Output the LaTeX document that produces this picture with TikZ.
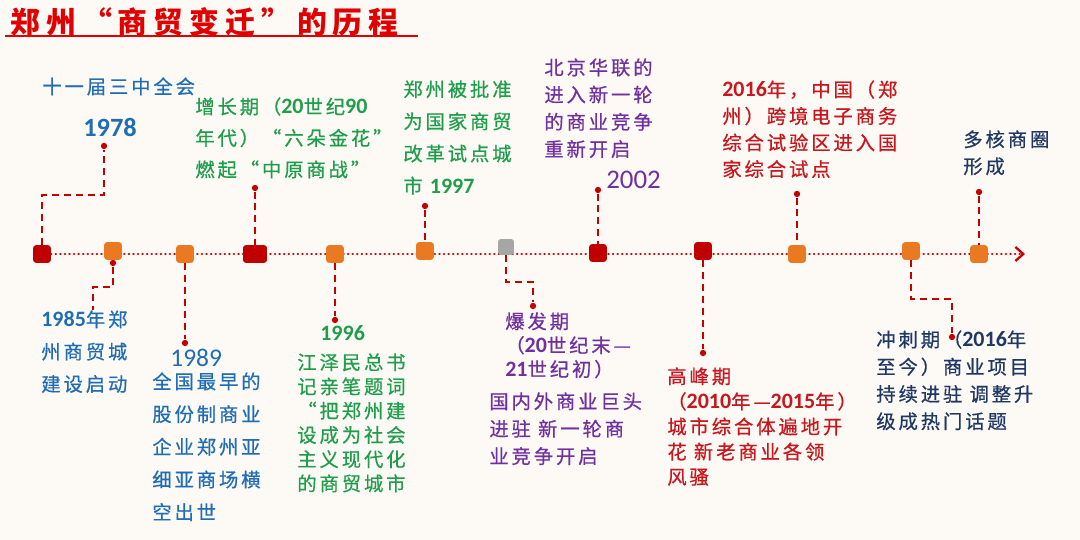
\documentclass[tikz,border=0pt]{standalone}
\usepackage{fontspec}
\setmainfont{Carlito}
\newfontfamily\cjk[LetterSpace=15, FakeBold=0.6]{Noto Sans CJK SC}
\newfontfamily\titlefont[LetterSpace=20]{Noto Sans CJK SC}
\newfontfamily\yr{Carlito}
\newcommand\nm[1]{{\yr\bfseries\fontsize{12.5}{12.5}\selectfont #1}}
\usetikzlibrary{arrows.meta}

\definecolor{bg}{HTML}{FDFAF6}
\definecolor{titlered}{HTML}{E00000}
\definecolor{txtblue}{HTML}{1F6DB5}
\definecolor{txtgreen}{HTML}{1E9E4A}
\definecolor{txtpurple}{HTML}{7030A0}
\definecolor{txtred}{HTML}{C8161D}
\definecolor{txtnavy}{HTML}{1F3864}
\definecolor{mkred}{HTML}{C00000}
\definecolor{mkorange}{HTML}{EA7A22}
\definecolor{mkgray}{HTML}{A6A6A6}
\definecolor{lnred}{HTML}{C40000}

\tikzset{
	mk/.style={rounded corners=1.5pt, minimum width=10pt, minimum height=10pt, inner sep=0pt},
	tipdot/.style={circle, fill=lnred, inner sep=0pt, minimum size=3.6pt},
	conn/.style={lnred, line width=1.1pt, dash pattern=on 4pt off 2.8pt},
	timeline/.style={lnred, line width=1.5pt, line cap=round, dash pattern=on 0.1pt off 2.5pt,
		-{Straight Barb[length=4.5pt, width=8pt, line width=1.3pt]}},
	lbl/.style={inner sep=0pt, anchor=north west, align=left, font=\cjk\fontsize{11}{#1}\selectfont},
	bigyear/.style={inner sep=0pt, anchor=west, font=\yr\bfseries\fontsize{#1}{#1}\selectfont},
	thinyear/.style={inner sep=0pt, anchor=west, font=\yr\fontsize{#1}{#1}\selectfont},
}

\begin{document}
\begin{tikzpicture}[x=0.02cm, y=-0.02cm]
	\useasboundingbox (0,0) rectangle (1080,540);
	\fill[bg] (0,0) rectangle (1080,540);

	% title
	\node[inner sep=0pt, anchor=west, titlered, font=\titlefont\bfseries\fontsize{17}{17}\selectfont] (title) at (10,22) {郑州“商贸变迁”的历程};
	\draw[titlered, line width=1.3pt] (5,36) -- (418,36);

	% time line
	\coordinate (tl-start) at (42,254);
	\coordinate (tl-end) at (1025,254);
	\draw[timeline] (tl-start) -- (tl-end);

	\node[mk, fill=mkred] (m1) at (42,254) {};
	\node[mk, fill=mkorange] (m2) at (113,251) {};
	\node[mk, fill=mkorange] (m3) at (185,254) {};
	\node[mk, fill=mkred, minimum width=13.6pt] (m4) at (255,254) {};
	\node[mk, fill=mkorange] (m5) at (335,254) {};
	\node[mk, fill=mkorange] (m6) at (425,251) {};
	\node[mk, fill=mkgray, minimum width=9pt, minimum height=9pt] (m7) at (506,247) {};
	\node[mk, fill=mkred] (m8) at (598,253) {};
	\node[mk, fill=mkred] (m9) at (703,251) {};
	\node[mk, fill=mkorange] (m10) at (797,254) {};
	\node[mk, fill=mkorange] (m11) at (911,251) {};
	\node[mk, fill=mkorange] (m12) at (979,254) {};

	% dots at the ends of the leaders
	\node[tipdot] (d1) at (104,146) {};
	\node[tipdot] (d2) at (113,263) {};
	\node[tipdot] (d3) at (185,343) {};
	\node[tipdot] (d4) at (255,188) {};
	\node[tipdot] (d5) at (335,320) {};
	\node[tipdot] (d6) at (425,206) {};
	\node[tipdot] (d7) at (533,306) {};
	\node[tipdot] (d8) at (598,190) {};
	\node[tipdot] (d9) at (703,353) {};
	\node[tipdot] (d10) at (797,194) {};
	\node[tipdot] (d11) at (952,337) {};
	\node[tipdot] (d12) at (979,192) {};

	\coordinate (k1) at (104,195);
	\coordinate (k2) at (93,287);
	\coordinate (e2) at (93,310);
	\coordinate (k7) at (533,282);
	\coordinate (k11) at (952,299);

	\draw[conn] (m1.north) |- (k1) -- (d1);
	\draw[conn] (d2) |- (k2) -- (e2);
	\draw[conn] (m3.south) -- (d3);
	\draw[conn] (d4) -- (m4.north);
	\draw[conn] (m5.south) -- (d5);
	\draw[conn] (d6) -- (m6.north);
	\draw[conn] (m7.south) |- (k7) -- (d7);
	\draw[conn] (d8) -- (m8.north);
	\draw[conn] (m9.south) -- (d9);
	\draw[conn] (d10) -- (m10.north);
	\draw[conn] (m11.south) |- (k11) -- (d11);
	\draw[conn] (d12) -- (m12.north);

	% labels above
	\node[lbl=15, txtblue] (t1) at (42,77) {十一届三中全会};
	\node[bigyear=15, txtblue] (y1) at (83,128) {1978};
	\node[lbl=17.9, txtgreen] (t4) at (195,97) {增长期（\nm{20}世纪\nm{90}\\年代）“六朵金花”\\燃起“中原商战”};
	\node[lbl=18.3, txtgreen] (t6) at (403,80) {郑州被批准\\为国家商贸\\改革试点城\\市 \nm{1997}};
	\node[lbl=15.5, txtpurple] (t8) at (544,58) {北京华联的\\进入新一轮\\的商业竞争\\重新开启};
	\node[thinyear=15.3, txtpurple] (y8) at (606,180) {2002};
	\node[lbl=15.1, txtred] (t10) at (722,80) {\nm{2016}年，中国（郑\\州）跨境电子商务\\综合试验区进入国\\家综合试点};
	\node[lbl=15.3, txtnavy] (t12) at (963,130) {多核商圈\\形成};

	% labels below
	\node[lbl=18.4, txtblue] (t2) at (41,310) {\nm{1985}年郑\\州商贸城\\建设启动};
	\node[thinyear=14.5, txtblue] (y3) at (170,358) {1989};
	\node[lbl=18.6, txtblue] (t3) at (152,372) {全国最早的\\股份制商业\\企业郑州亚\\细亚商场横\\空出世};
	\node[bigyear=12.5, txtgreen] (y5) at (320,333) {1996};
	\node[lbl=13.8, txtgreen] (t5) at (297,353) {江泽民总书\\记亲笔题词\\“把郑州建\\设成为社会\\主义现代化\\的商贸城市};
	\node[lbl=13.6, txtpurple] (t7a) at (505,312) {爆发期\\（\nm{20}世纪末—\\\nm{21}世纪初）};
	\node[lbl=15.6, txtpurple] (t7b) at (489,392) {国内外商业巨头\\进驻 新一轮商\\业竞争开启};
	\node[lbl=14.3, txtred] (t9) at (667,367) {高峰期\\（\nm{2010}年—\nm{2015}年）\\城市综合体遍地开\\花 新老商业各领\\风骚};
	\node[lbl=15.5, txtnavy] (t11) at (876,330) {冲刺期（\nm{2016}年\\至今）商业项目\\持续进驻 调整升\\级成热门话题};
\end{tikzpicture}
\end{document}
